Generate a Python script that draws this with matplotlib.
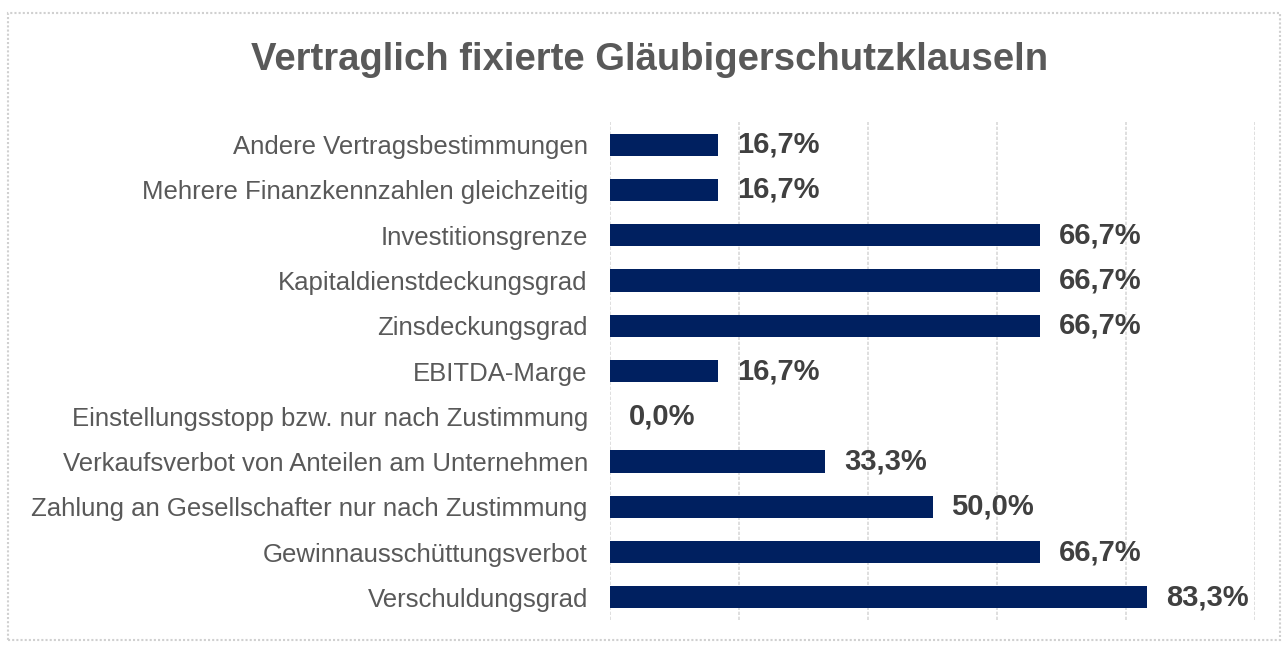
import matplotlib
matplotlib.use("Agg")
from matplotlib import pyplot as plt
from matplotlib.patches import Rectangle

# data (top to bottom as in the chart)
categories = [
    "Andere Vertragsbestimmungen",
    "Mehrere Finanzkennzahlen gleichzeitig",
    "Investitionsgrenze",
    "Kapitaldienstdeckungsgrad",
    "Zinsdeckungsgrad",
    "EBITDA-Marge",
    "Einstellungsstopp bzw. nur nach Zustimmung",
    "Verkaufsverbot von Anteilen am Unternehmen",
    "Zahlung an Gesellschafter nur nach Zustimmung",
    "Gewinnausschüttungsverbot",
    "Verschuldungsgrad",
]
values = [16.7, 16.7, 66.7, 66.7, 66.7, 16.7, 0.0, 33.3, 50.0, 66.7, 83.3]
title = "Vertraglich fixierte Gläubigerschutzklauseln"

plt.rcParams['font.family'] = ['Liberation Sans', 'DejaVu Sans']

fig = plt.figure(figsize=(12.88, 6.48), dpi=100)
ax = fig.add_axes([610/1288, 1-620/648, (1255-610)/1288, (620-122)/648])

ypos = list(range(len(categories)))
ax.barh(ypos, values, height=0.49, color='#002060', zorder=3)
ax.set_ylim(len(categories)-0.5, -0.5)
ax.set_xlim(0, 100)
ax.set_xticks([0, 20, 40, 60, 80, 100])
ax.set_xticklabels([])
ax.tick_params(axis='x', length=0)
ax.tick_params(axis='y', length=0, pad=16)
ax.set_yticks(ypos)
ax.set_yticklabels(categories, fontsize=18.5, color='#595959')
ax.grid(axis='x', color='#d9d9d9', linewidth=1.2, linestyle=(0, (2, 1)), zorder=0)
for s in ax.spines.values():
    s.set_visible(False)

for y, v in zip(ypos, values):
    ax.annotate(f"{v:.1f}%".replace('.', ','), xy=(v, y), xytext=(19, 0),
                textcoords='offset pixels',
                va='center', ha='left', fontsize=21, fontweight='bold',
                color='#404040')

fig.text(650/1288, 1-60/648, title, ha='center', va='center',
         fontsize=27.5, fontweight='bold', color='#595959')

# light outer frame
fig.patches.append(Rectangle((8/1288, 8/648), 1272/1288, 627/648,
                             transform=fig.transFigure, fill=False,
                             edgecolor='#d0d0d0', linewidth=1.5,
                             linestyle=(0, (1, 1))))

fig.savefig('out.png', dpi=100)
